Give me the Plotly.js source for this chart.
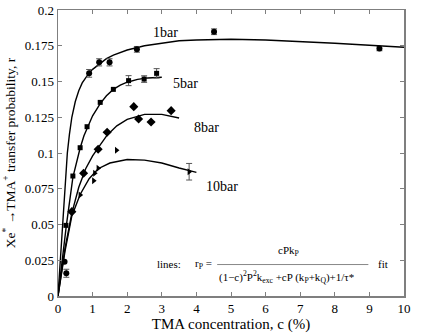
<!DOCTYPE html>
<html>
<head>
<meta charset="utf-8">
<script src="https://cdn.plot.ly/plotly-3.0.1.min.js"></script>
<style>
  body { margin: 0; background: #ffffff; }
  #chart { width: 425px; height: 333px; }
</style>
</head>
<body>
<div id="chart"></div>
<script>
// measured points (TMA concentration %, transfer probability)
const bar1X = [0.19, 0.24, 0.9, 1.19, 1.49, 2.28, 4.51, 9.29];
const bar1Y = [0.024, 0.0159, 0.1557, 0.1634, 0.1634, 0.1725, 0.1848, 0.173];
const bar1Err = [NaN, 0.0028, 0.0027, 0.0025, 0.0025, 0.002, 0.002, 0.0015];

const bar5X = [0.23, 0.43, 0.64, 0.84, 1.22, 1.6, 2.04, 2.49, 2.85];
const bar5Y = [0.0494, 0.0839, 0.1037, 0.1184, 0.1354, 0.1445, 0.1506, 0.1517, 0.1557];
const bar5Err = [NaN, NaN, NaN, NaN, NaN, NaN, 0.0035, 0.0023, 0.0033];

const bar8X = [0.4, 0.74, 1.16, 1.42, 2.19, 2.33, 2.69, 3.27];
const bar8Y = [0.059, 0.0858, 0.1026, 0.1145, 0.1324, 0.1238, 0.1217, 0.1296];

const bar10X = [0.64, 1.03, 1.06, 1.16, 1.69, 3.79];
const bar10Y = [0.0706, 0.0806, 0.0858, 0.0893, 0.1019, 0.0869];
const bar10Err = [NaN, NaN, NaN, NaN, NaN, 0.0058];

// fit lines
const fit1X = [0, 0.27, 0.33, 0.4, 0.5, 0.6, 0.7, 0.8, 0.9, 1.0, 1.2, 1.4, 1.6, 1.8, 2.0, 2.5, 3, 3.5, 4, 5, 6, 7, 8, 9, 10];
const fit1Y = [0, 0.1, 0.113, 0.125, 0.136, 0.1435, 0.149, 0.1525, 0.156, 0.1585, 0.1625, 0.166, 0.1685, 0.1705, 0.172, 0.175, 0.177, 0.1785, 0.179, 0.1795, 0.179, 0.178, 0.1767, 0.1753, 0.174];

const fit5X = [0, 0.24, 0.43, 0.55, 0.64, 0.75, 0.84, 1.0, 1.22, 1.4, 1.6, 1.8, 2.0, 2.3, 2.6, 3.0];
const fit5Y = [0, 0.049, 0.083, 0.096, 0.1035, 0.112, 0.1175, 0.126, 0.1345, 0.14, 0.1445, 0.1475, 0.1495, 0.1515, 0.1525, 0.153];

const fit8X = [0, 0.2, 0.4, 0.6, 0.8, 1.0, 1.2, 1.42, 1.7, 2.0, 2.5, 3.0, 3.5];
const fit8Y = [0, 0.033, 0.058, 0.076, 0.089, 0.098, 0.105, 0.1125, 0.119, 0.1235, 0.127, 0.127, 0.1245];

const fit10X = [0, 0.2, 0.4, 0.64, 0.9, 1.16, 1.5, 2.0, 2.5, 3.0, 3.5, 4.0];
const fit10Y = [0, 0.031, 0.056, 0.071, 0.082, 0.089, 0.093, 0.0955, 0.095, 0.093, 0.0895, 0.0865];

const curveLabels = ['1bar', '5bar', '8bar', '10bar'];
const labelX = [3.1, 3.69, 4.28, 4.75];
const labelY = [0.1846, 0.1487, 0.118, 0.0764];

const serif = '"Liberation Serif", "DejaVu Serif", serif';
const axisGrey = '#7f7f7f';

function fitLine(x, y) {
    return { x: x, y: y, mode: 'lines', type: 'scatter', line: { color: '#000', width: 1.4 }, hoverinfo: 'skip' };
}

function pointSet(x, y, symbol, size, err) {
    const t = {
        x: x, y: y, mode: 'markers', type: 'scatter',
        marker: { symbol: symbol, size: size, color: '#000' }
    };
    if (err) {
        t.error_y = { type: 'data', array: err, visible: true, color: '#555', thickness: 1, width: 3 };
    }
    return t;
}

const data = [
    fitLine(fit1X, fit1Y),
    fitLine(fit5X, fit5Y),
    fitLine(fit8X, fit8Y),
    fitLine(fit10X, fit10Y),
    pointSet(bar1X, bar1Y, 'circle', 6, bar1Err),
    pointSet(bar5X, bar5Y, 'square', 5, bar5Err),
    pointSet(bar8X, bar8Y, 'diamond', 7),
    pointSet(bar10X, bar10Y, 'triangle-right', 6, bar10Err)
];

const annotations = curveLabels.map((t, i) => ({
    x: labelX[i], y: labelY[i], text: t, showarrow: false,
    font: { family: serif, size: 14, color: '#000' }
}));

// fit formula in the lower right
const formulaFont = { family: serif, size: 11, color: '#000' };
annotations.push(
    { x: 3.22, y: 0.0224, text: 'lines:', showarrow: false, font: formulaFont },
    { x: 4.21, y: 0.0224, text: 'r<sub>P</sub> =', showarrow: false, font: formulaFont },
    { x: 6.66, y: 0.0318, text: 'cPk<sub>P</sub>', showarrow: false, font: formulaFont },
    { x: 6.6, y: 0.0135, text: '(1\u2212c)<sup>2</sup>P<sup>2</sup>k<sub>exc</sub> +cP (k<sub>P</sub>+k<sub>Q</sub>)+1/\u03c4*', showarrow: false, font: formulaFont },
    { x: 9.38, y: 0.0224, text: 'fit', showarrow: false, font: formulaFont }
);

// trailing spaces push the y title a little below the plot centre, as in the figure
const yTitle = 'Xe<sup>*</sup> \u2192TMA<sup>+</sup> transfer probability, r' + '\u00a0'.repeat(10);

const layout = {
    width: 425,
    height: 333,
    margin: { l: 58, r: 21, t: 10, b: 37 },
    paper_bgcolor: '#ffffff',
    plot_bgcolor: '#ffffff',
    showlegend: false,
    font: { family: serif, size: 13, color: '#000' },
    xaxis: {
        range: [0, 10],
        dtick: 1,
        ticks: 'inside',
        ticklen: 4,
        tickcolor: axisGrey,
        showline: true,
        linecolor: axisGrey,
        linewidth: 1.5,
        mirror: 'ticks',
        showgrid: false,
        zeroline: false,
        title: { text: 'TMA concentration, c (%)', font: { family: serif, size: 15 }, standoff: 1 }
    },
    yaxis: {
        range: [0, 0.2],
        dtick: 0.025,
        ticks: 'inside',
        ticklen: 4,
        tickcolor: axisGrey,
        showline: true,
        linecolor: axisGrey,
        linewidth: 1.5,
        mirror: 'ticks',
        showgrid: false,
        zeroline: false,
        title: { text: yTitle, font: { family: serif, size: 13.5 }, standoff: 6 }
    },
    shapes: [{
        type: 'line', xref: 'x', yref: 'y',
        x0: 4.6, x1: 8.97, y0: 0.022, y1: 0.022,
        line: { color: '#888', width: 1 }
    }],
    annotations: annotations
};

Plotly.newPlot('chart', data, layout, { displayModeBar: false, staticPlot: true });
</script>
</body>
</html>
